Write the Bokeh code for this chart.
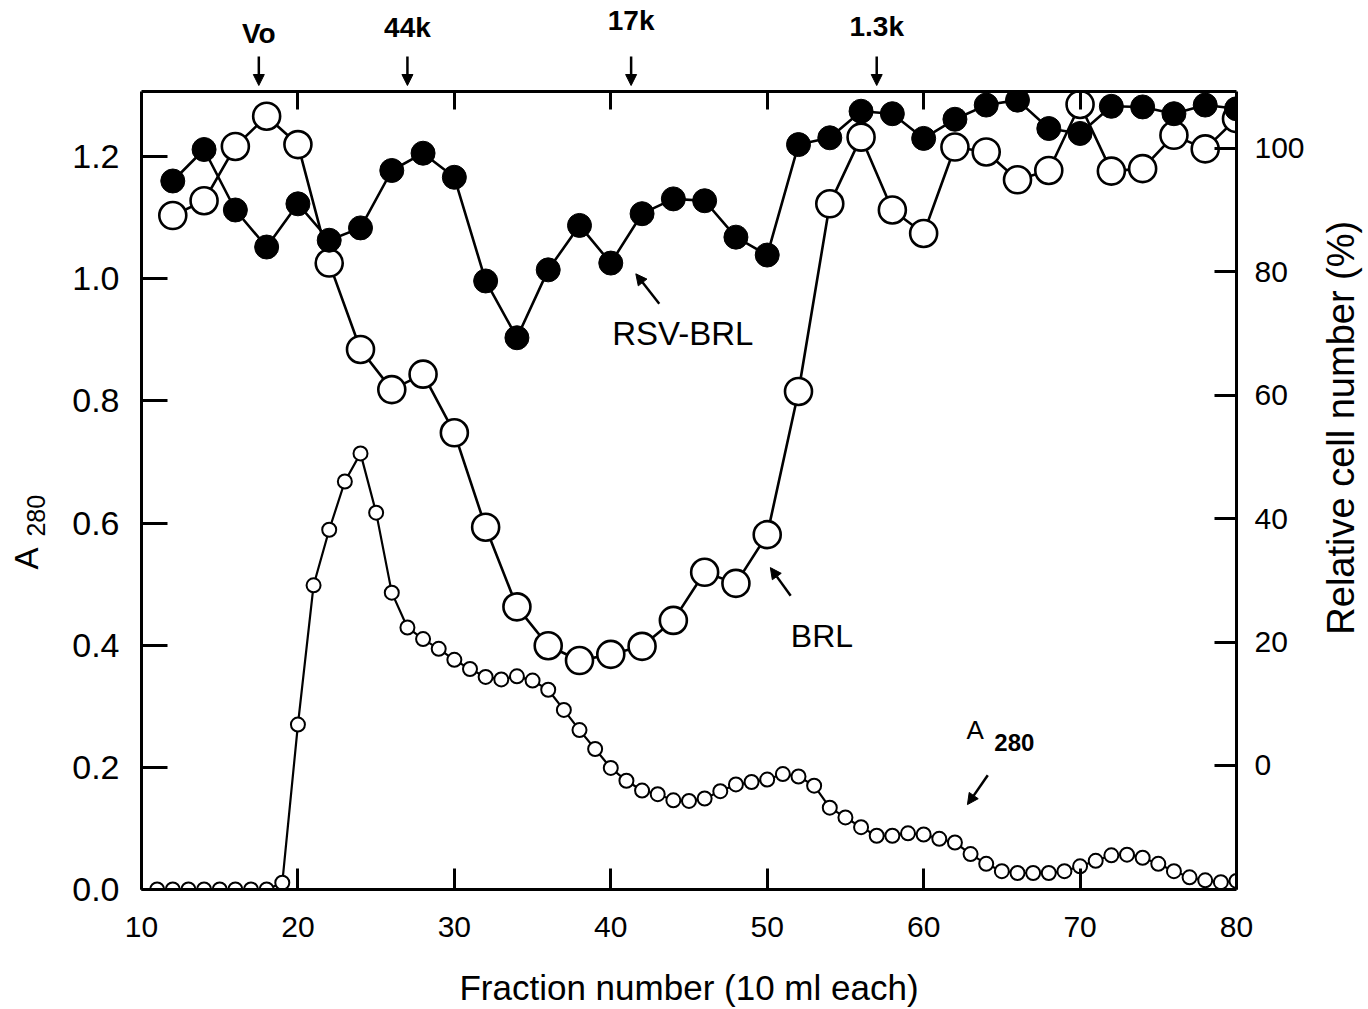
import math

from bokeh.embed import file_html
from bokeh.layouts import column, row
from bokeh.models import (Arrow, FixedTicker, Label, LinearAxis, NormalHead,
                          PrintfTickFormatter, Range1d)
from bokeh.plotting import figure
from bokeh.resources import INLINE

# ---- data -------------------------------------------------------------
# relative cell number (%) measured on every second fraction
cell_fractions = list(range(12, 81, 2))
rsv_brl = [94.7, 99.8, 90.0, 84.0, 91.0, 85.1, 87.1, 96.4, 99.2, 95.3,
           78.5, 69.3, 80.3, 87.5, 81.4, 89.4, 91.8, 91.5, 85.6, 82.7,
           100.6, 101.7, 106.0, 105.6, 101.6, 104.7, 107.0, 107.8, 103.2, 102.4,
           106.8, 106.7, 105.6, 107.0, 106.4]
brl = [89.1, 91.5, 100.3, 105.2, 100.6, 81.4, 67.4, 60.9, 63.4, 53.9,
       38.6, 25.7, 19.4, 17.0, 18.0, 19.3, 23.5, 31.3, 29.5, 37.4,
       60.6, 91.0, 101.8, 90.0, 86.2, 100.2, 99.4, 94.9, 96.4, 107.1,
       96.3, 96.7, 102.1, 99.9, 104.8]

# absorbance at 280 nm for every fraction
a280_fractions = list(range(11, 81))
a280 = [0.0, 0.0, 0.0, 0.0, 0.0, 0.0, 0.0, 0.0, 0.011, 0.270,
        0.498, 0.589, 0.668, 0.714, 0.617, 0.486, 0.429, 0.410, 0.394, 0.376,
        0.361, 0.348, 0.344, 0.349, 0.342, 0.327, 0.294, 0.261, 0.230, 0.199,
        0.178, 0.162, 0.156, 0.146, 0.145, 0.149, 0.161, 0.172, 0.176, 0.180,
        0.189, 0.185, 0.170, 0.134, 0.118, 0.102, 0.088, 0.088, 0.092, 0.090,
        0.083, 0.077, 0.058, 0.042, 0.030, 0.027, 0.027, 0.027, 0.030, 0.038,
        0.047, 0.056, 0.057, 0.052, 0.042, 0.030, 0.020, 0.015, 0.012, 0.014]

# column calibration markers (elution position of size standards)
marker_names = ["Vo", "44k", "17k", "1.3k"]
marker_fractions = [17.5, 27.0, 41.3, 57.0]

x_ticks = [10, 20, 30, 40, 50, 60, 70, 80]
a280_ticks = [0.0, 0.2, 0.4, 0.6, 0.8, 1.0, 1.2]
cell_ticks = [0, 20, 40, 60, 80, 100]

FONT = "'Liberation Sans', Arial, Helvetica, sans-serif"
INK = "black"

# ---- page geometry (pixels) -------------------------------------------
LEFT_W, RIGHT_W = 60, 53
CENTER_W = 1368 - LEFT_W - RIGHT_W
HEADER_H, FOOTER_H = 88, 44
MAIN_H = 1009 - HEADER_H - FOOTER_H
BORDER_L, BORDER_R = 81, 79          # inside the centre column
BORDER_T, BORDER_B = 3, 76           # inside the main plot


def bare(width, height, **kw):
    f = figure(width=width, height=height, output_backend="svg",
               toolbar_location=None, background_fill_color="white",
               border_fill_color="white", **kw)
    f.outline_line_color = None
    f.xgrid.visible = False
    f.ygrid.visible = False
    f.axis.visible = False
    return f


# ---- main plot ----------------------------------------------------------
p = figure(width=CENTER_W, height=MAIN_H,
           x_range=Range1d(10, 80), y_range=Range1d(0, 1.3065),
           output_backend="svg", toolbar_location=None,
           min_border_left=BORDER_L, min_border_right=BORDER_R,
           min_border_top=BORDER_T, min_border_bottom=BORDER_B,
           background_fill_color="white", border_fill_color="white")
p.outline_line_color = None
p.xgrid.visible = False
p.ygrid.visible = False
p.extra_y_ranges = {"cells": Range1d(-20.1, 109.2)}


def style_axis(ax, tick_in, standoff, size="30px"):
    ax.axis_line_color = INK
    ax.axis_line_width = 3
    ax.major_tick_line_color = INK
    ax.major_tick_line_width = 3
    ax.major_tick_in = tick_in
    ax.major_tick_out = 0
    ax.minor_tick_line_color = None
    ax.major_label_standoff = standoff
    ax.major_label_text_font = FONT
    ax.major_label_text_font_size = size
    ax.major_label_text_color = INK


bottom = p.below[0]
bottom.ticker = FixedTicker(ticks=x_ticks)
style_axis(bottom, 21, 27)

left = p.left[0]
left.ticker = FixedTicker(ticks=a280_ticks)
left.formatter = PrintfTickFormatter(format="%.1f")
style_axis(left, 26, 22, size="34px")

right = LinearAxis(y_range_name="cells", ticker=FixedTicker(ticks=cell_ticks))
style_axis(right, 22, 18)
p.add_layout(right, "right")

top = LinearAxis(ticker=FixedTicker(ticks=x_ticks[1:-1]),
                 major_label_overrides={t: "" for t in x_ticks})
style_axis(top, 18, 0, size="0px")
p.add_layout(top, "above")

# connecting lines first, then the symbols on top
p.line(a280_fractions, a280, line_color=INK, line_width=2.2)
p.line(cell_fractions, brl, y_range_name="cells", line_color=INK, line_width=2.6)
p.line(cell_fractions, rsv_brl, y_range_name="cells", line_color=INK, line_width=2.6)

p.scatter(a280_fractions, a280, size=14, marker="circle",
          fill_color="white", line_color=INK, line_width=2)
p.scatter(cell_fractions, brl, y_range_name="cells", size=27, marker="circle",
          fill_color="white", line_color=INK, line_width=2.6)
p.scatter(cell_fractions, rsv_brl, y_range_name="cells", size=24, marker="circle",
          fill_color=INK, line_color=INK, line_width=1)


def curve_label(x, y, text, size="32px", style="normal"):
    p.add_layout(Label(x=x, y=y, text=text, text_font=FONT, text_font_size=size,
                       text_font_style=style, text_color=INK,
                       text_align="center", text_baseline="middle"))


def pointer(fig, x0, y0, x1, y1):
    fig.add_layout(Arrow(x_start=x0, y_start=y0, x_end=x1, y_end=y1,
                         line_color=INK, line_width=2.5,
                         end=NormalHead(size=11, fill_color=INK, line_color=INK)))


curve_label(44.6, 0.910, "RSV-BRL", size="33px")
pointer(p, 43.1, 0.959, 41.6, 1.008)

curve_label(53.5, 0.415, "BRL")
pointer(p, 51.5, 0.481, 50.2, 0.527)

curve_label(63.3, 0.261, "A", size="26px")
curve_label(65.8, 0.240, "280", size="24px", style="bold")
pointer(p, 64.1, 0.187, 62.8, 0.139)

# ---- strip above the plot: calibration markers ---------------------------
header = bare(CENTER_W, HEADER_H, x_range=p.x_range, y_range=Range1d(0, HEADER_H),
              min_border_left=BORDER_L, min_border_right=BORDER_R,
              min_border_top=0, min_border_bottom=0)
marker_label_y = [55, 61, 68, 62]
for name, frac, ly in zip(marker_names, marker_fractions, marker_label_y):
    header.add_layout(Label(x=frac, y=ly, text=name, text_font=FONT,
                            text_font_size="28px", text_font_style="bold",
                            text_color=INK, text_align="center",
                            text_baseline="middle"))
    pointer(header, frac, 32, frac, 3)

# ---- strip below the plot: x-axis title ----------------------------------
footer = bare(CENTER_W, FOOTER_H, x_range=p.x_range, y_range=Range1d(0, FOOTER_H),
              min_border_left=BORDER_L, min_border_right=BORDER_R,
              min_border_top=0, min_border_bottom=0)
footer.add_layout(Label(x=45, y=22, text="Fraction number (10 ml each)",
                        text_font=FONT, text_font_size="35px", text_color=INK,
                        text_align="center", text_baseline="middle"))

# ---- side strips: vertical axis titles -----------------------------------
side_top = HEADER_H + BORDER_T
side_bottom = FOOTER_H + BORDER_B
left_strip = bare(LEFT_W, 1009, x_range=Range1d(0, LEFT_W), y_range=p.y_range,
                  min_border_left=0, min_border_right=0,
                  min_border_top=side_top, min_border_bottom=side_bottom)
left_strip.add_layout(Label(x=26, y=0.542, text="A", angle=math.pi / 2,
                            text_font=FONT, text_font_size="33px", text_color=INK,
                            text_align="center", text_baseline="middle"))
left_strip.add_layout(Label(x=35, y=0.612, text="280", angle=math.pi / 2,
                            text_font=FONT, text_font_size="25px", text_color=INK,
                            text_align="center", text_baseline="middle"))

right_strip = bare(RIGHT_W, 1009, x_range=Range1d(0, RIGHT_W), y_range=p.y_range,
                   min_border_left=0, min_border_right=0,
                   min_border_top=side_top, min_border_bottom=side_bottom)
right_strip.add_layout(Label(x=25, y=0.756, text="Relative cell number (%)",
                             angle=math.pi / 2, text_font=FONT,
                             text_font_size="38px", text_color=INK,
                             text_align="center", text_baseline="middle"))

page = row(left_strip, column(header, p, footer, spacing=0), right_strip, spacing=0)

open("out.html", "w").write(file_html(page, INLINE))
